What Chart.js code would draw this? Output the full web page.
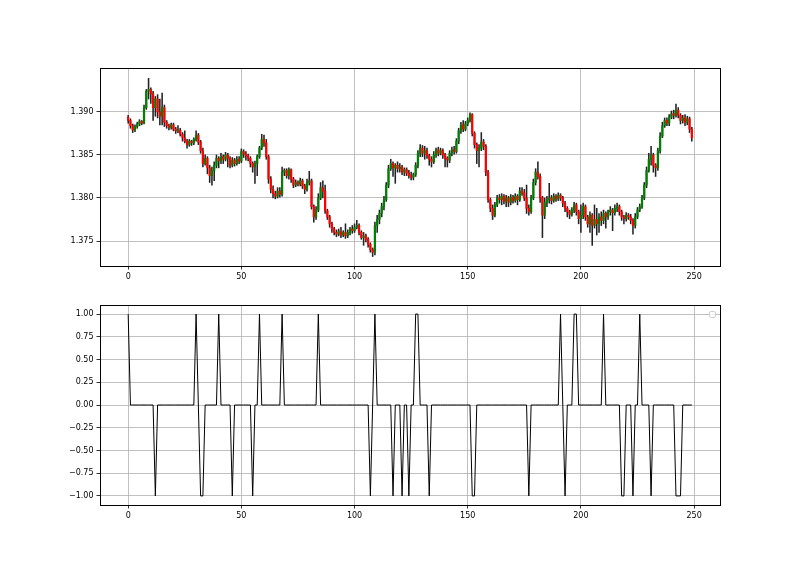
<!DOCTYPE html>
<html>
<head>
<meta charset="utf-8">
<script src="https://cdn.jsdelivr.net/npm/chart.js@4.4.1/dist/chart.umd.min.js"></script>
<style>
    html, body { margin: 0; padding: 0; background: #fff; }
    #wrap { position: relative; width: 800px; height: 566px; }
    canvas { position: absolute; left: 0; }
    #price-chart { top: 0; }
    #signal-chart { top: 290px; }
</style>
</head>
<body>
<div id="wrap">
    <canvas id="price-chart" width="800" height="290"></canvas>
    <canvas id="signal-chart" width="800" height="276"></canvas>
</div>
<script>
// OHLC values (index 0..249)
const opens = [
    1.3894,1.3890,1.3884,1.3879,1.3883,1.3886,1.3889,1.3887,1.3905,1.3924,
    1.3926,1.3921,1.3905,1.3915,1.3900,1.3895,1.3905,1.3888,1.3884,1.3882,
    1.3885,1.3880,1.3878,1.3879,1.3874,1.3870,1.3866,1.3862,1.3866,1.3864,
    1.3868,1.3873,1.3865,1.3855,1.3840,1.3846,1.3835,1.3826,1.3832,1.3838,
    1.3846,1.3843,1.3848,1.3845,1.3850,1.3846,1.3838,1.3844,1.3840,1.3845,
    1.3843,1.3854,1.3851,1.3849,1.3846,1.3840,1.3836,1.3840,1.3848,1.3858,
    1.3868,1.3864,1.3848,1.3822,1.3810,1.3805,1.3802,1.3808,1.3804,1.3830,
    1.3832,1.3826,1.3833,1.3822,1.3815,1.3818,1.3816,1.3820,1.3814,1.3810,
    1.3818,1.3820,1.3790,1.3778,1.3786,1.3800,1.3812,1.3808,1.3785,1.3778,
    1.3770,1.3764,1.3760,1.3758,1.3761,1.3757,1.3760,1.3756,1.3760,1.3764,
    1.3762,1.3766,1.3768,1.3760,1.3754,1.3756,1.3752,1.3746,1.3740,1.3737,
    1.3768,1.3775,1.3782,1.3790,1.3798,1.3815,1.3834,1.3840,1.3835,1.3838,
    1.3834,1.3836,1.3830,1.3833,1.3829,1.3826,1.3824,1.3827,1.3838,1.3852,
    1.3858,1.3852,1.3855,1.3849,1.3845,1.3842,1.3850,1.3856,1.3852,1.3855,
    1.3850,1.3846,1.3844,1.3852,1.3856,1.3854,1.3866,1.3878,1.3885,1.3880,
    1.3886,1.3890,1.3897,1.3875,1.3862,1.3855,1.3858,1.3865,1.3860,1.3830,
    1.3798,1.3788,1.3780,1.3792,1.3800,1.3798,1.3802,1.3796,1.3800,1.3795,
    1.3801,1.3797,1.3802,1.3798,1.3808,1.3806,1.3800,1.3788,1.3784,1.3800,
    1.3818,1.3830,1.3825,1.3800,1.3780,1.3795,1.3798,1.3800,1.3797,1.3802,
    1.3799,1.3803,1.3800,1.3794,1.3788,1.3784,1.3781,1.3786,1.3792,1.3784,
    1.3776,1.3780,1.3790,1.3778,1.3770,1.3780,1.3768,1.3775,1.3770,1.3778,
    1.3774,1.3782,1.3778,1.3784,1.3786,1.3783,1.3788,1.3790,1.3784,1.3778,
    1.3776,1.3780,1.3778,1.3774,1.3768,1.3778,1.3786,1.3790,1.3800,1.3815,
    1.3832,1.3845,1.3850,1.3838,1.3835,1.3855,1.3872,1.3884,1.3890,1.3887,
    1.3894,1.3898,1.3896,1.3902,1.3896,1.3890,1.3893,1.3888,1.3892,1.3880
];
const highs = [
    1.3896,1.3892,1.3886,1.3885,1.3888,1.3891,1.3890,1.3908,1.3926,1.3939,
    1.3928,1.3924,1.3918,1.3920,1.3915,1.3922,1.3908,1.3890,1.3886,1.3887,
    1.3887,1.3882,1.3884,1.3881,1.3876,1.3878,1.3868,1.3868,1.3867,1.3870,
    1.3878,1.3875,1.3867,1.3858,1.3850,1.3848,1.3838,1.3836,1.3842,1.3850,
    1.3848,1.3852,1.3850,1.3853,1.3852,1.3848,1.3847,1.3846,1.3848,1.3848,
    1.3857,1.3856,1.3854,1.3851,1.3848,1.3842,1.3843,1.3850,1.3860,1.3874,
    1.3873,1.3868,1.3850,1.3825,1.3814,1.3808,1.3812,1.3812,1.3836,1.3834,
    1.3834,1.3835,1.3834,1.3824,1.3821,1.3820,1.3823,1.3822,1.3816,1.3822,
    1.3831,1.3822,1.3792,1.3790,1.3805,1.3818,1.3820,1.3815,1.3787,1.3780,
    1.3772,1.3766,1.3763,1.3764,1.3766,1.3762,1.3770,1.3763,1.3766,1.3768,
    1.3770,1.3774,1.3770,1.3762,1.3760,1.3758,1.3754,1.3748,1.3742,1.3772,
    1.3780,1.3786,1.3794,1.3802,1.3818,1.3838,1.3845,1.3842,1.3840,1.3842,
    1.3840,1.3838,1.3835,1.3835,1.3832,1.3830,1.3829,1.3841,1.3855,1.3862,
    1.3861,1.3860,1.3858,1.3851,1.3848,1.3854,1.3858,1.3859,1.3858,1.3857,
    1.3852,1.3848,1.3855,1.3859,1.3860,1.3869,1.3881,1.3888,1.3890,1.3889,
    1.3893,1.3899,1.3898,1.3877,1.3864,1.3862,1.3876,1.3868,1.3862,1.3832,
    1.3800,1.3792,1.3795,1.3803,1.3804,1.3805,1.3804,1.3803,1.3802,1.3804,
    1.3803,1.3805,1.3804,1.3812,1.3812,1.3810,1.3815,1.3792,1.3803,1.3822,
    1.3834,1.3842,1.3828,1.3802,1.3800,1.3802,1.3817,1.3803,1.3805,1.3804,
    1.3806,1.3805,1.3802,1.3796,1.3790,1.3786,1.3789,1.3795,1.3794,1.3786,
    1.3792,1.3794,1.3792,1.3780,1.3784,1.3782,1.3792,1.3788,1.3782,1.3784,
    1.3786,1.3784,1.3786,1.3790,1.3788,1.3792,1.3794,1.3792,1.3786,1.3780,
    1.3783,1.3782,1.3781,1.3776,1.3782,1.3789,1.3793,1.3803,1.3818,1.3836,
    1.3852,1.3860,1.3852,1.3840,1.3858,1.3876,1.3888,1.3893,1.3893,1.3897,
    1.3901,1.3902,1.3909,1.3905,1.3898,1.3896,1.3897,1.3895,1.3894,1.3882
];
const lows = [
    1.3887,1.3881,1.3876,1.3877,1.3881,1.3884,1.3885,1.3886,1.3903,1.3915,
    1.3910,1.3890,1.3895,1.3893,1.3885,1.3885,1.3883,1.3881,1.3879,1.3880,
    1.3878,1.3875,1.3876,1.3872,1.3866,1.3864,1.3858,1.3860,1.3861,1.3862,
    1.3866,1.3862,1.3852,1.3836,1.3838,1.3828,1.3818,1.3815,1.3820,1.3835,
    1.3835,1.3840,1.3840,1.3843,1.3836,1.3835,1.3836,1.3837,1.3838,1.3840,
    1.3841,1.3847,1.3844,1.3843,1.3836,1.3830,1.3817,1.3826,1.3846,1.3856,
    1.3860,1.3845,1.3817,1.3806,1.3800,1.3799,1.3800,1.3801,1.3802,1.3826,
    1.3823,1.3822,1.3818,1.3812,1.3813,1.3814,1.3814,1.3811,1.3805,1.3808,
    1.3815,1.3787,1.3772,1.3775,1.3784,1.3798,1.3800,1.3782,1.3775,1.3766,
    1.3760,1.3757,1.3755,1.3756,1.3754,1.3755,1.3753,1.3754,1.3757,1.3759,
    1.3760,1.3764,1.3757,1.3752,1.3745,1.3749,1.3743,1.3737,1.3732,1.3734,
    1.3760,1.3770,1.3778,1.3786,1.3796,1.3812,1.3832,1.3825,1.3817,1.3830,
    1.3830,1.3827,1.3826,1.3826,1.3823,1.3821,1.3821,1.3825,1.3835,1.3848,
    1.3848,1.3845,1.3846,1.3838,1.3836,1.3840,1.3847,1.3849,1.3850,1.3846,
    1.3836,1.3836,1.3841,1.3849,1.3851,1.3852,1.3863,1.3875,1.3877,1.3878,
    1.3884,1.3888,1.3872,1.3858,1.3840,1.3836,1.3855,1.3856,1.3826,1.3795,
    1.3784,1.3775,1.3778,1.3790,1.3794,1.3792,1.3793,1.3790,1.3790,1.3792,
    1.3794,1.3795,1.3792,1.3796,1.3803,1.3797,1.3782,1.3780,1.3782,1.3798,
    1.3815,1.3822,1.3795,1.3754,1.3776,1.3790,1.3794,1.3793,1.3795,1.3796,
    1.3797,1.3797,1.3790,1.3784,1.3778,1.3776,1.3779,1.3783,1.3780,1.3770,
    1.3760,1.3776,1.3774,1.3766,1.3760,1.3745,1.3765,1.3757,1.3760,1.3768,
    1.3770,1.3765,1.3775,1.3780,1.3762,1.3780,1.3784,1.3780,1.3774,1.3770,
    1.3773,1.3775,1.3770,1.3758,1.3765,1.3776,1.3784,1.3788,1.3798,1.3812,
    1.3830,1.3838,1.3830,1.3825,1.3832,1.3852,1.3870,1.3882,1.3884,1.3884,
    1.3892,1.3892,1.3894,1.3893,1.3886,1.3887,1.3884,1.3885,1.3876,1.3866
];
const closes = [
    1.3890,1.3884,1.3879,1.3883,1.3886,1.3889,1.3887,1.3905,1.3924,1.3926,
    1.3921,1.3905,1.3915,1.3900,1.3895,1.3905,1.3888,1.3884,1.3882,1.3885,
    1.3880,1.3878,1.3879,1.3874,1.3870,1.3866,1.3862,1.3866,1.3864,1.3868,
    1.3873,1.3865,1.3855,1.3840,1.3846,1.3835,1.3826,1.3832,1.3838,1.3846,
    1.3843,1.3848,1.3845,1.3850,1.3846,1.3838,1.3844,1.3840,1.3845,1.3843,
    1.3854,1.3851,1.3849,1.3846,1.3840,1.3836,1.3840,1.3848,1.3858,1.3868,
    1.3864,1.3848,1.3822,1.3810,1.3805,1.3802,1.3808,1.3804,1.3830,1.3832,
    1.3826,1.3833,1.3822,1.3815,1.3818,1.3816,1.3820,1.3814,1.3810,1.3818,
    1.3820,1.3790,1.3778,1.3786,1.3800,1.3812,1.3808,1.3785,1.3778,1.3770,
    1.3764,1.3760,1.3758,1.3761,1.3757,1.3760,1.3756,1.3760,1.3764,1.3762,
    1.3766,1.3768,1.3760,1.3754,1.3756,1.3752,1.3746,1.3740,1.3737,1.3768,
    1.3775,1.3782,1.3790,1.3798,1.3815,1.3834,1.3840,1.3835,1.3838,1.3834,
    1.3836,1.3830,1.3833,1.3829,1.3826,1.3824,1.3827,1.3838,1.3852,1.3858,
    1.3852,1.3855,1.3849,1.3845,1.3842,1.3850,1.3856,1.3852,1.3855,1.3850,
    1.3846,1.3844,1.3852,1.3856,1.3854,1.3866,1.3878,1.3885,1.3880,1.3886,
    1.3890,1.3897,1.3875,1.3862,1.3855,1.3858,1.3865,1.3860,1.3830,1.3798,
    1.3788,1.3780,1.3792,1.3800,1.3798,1.3802,1.3796,1.3800,1.3795,1.3801,
    1.3797,1.3802,1.3798,1.3808,1.3806,1.3800,1.3788,1.3784,1.3800,1.3818,
    1.3830,1.3825,1.3800,1.3780,1.3795,1.3798,1.3800,1.3797,1.3802,1.3799,
    1.3803,1.3800,1.3794,1.3788,1.3784,1.3781,1.3786,1.3792,1.3784,1.3776,
    1.3780,1.3790,1.3778,1.3770,1.3780,1.3768,1.3775,1.3770,1.3778,1.3774,
    1.3782,1.3778,1.3784,1.3786,1.3783,1.3788,1.3790,1.3784,1.3778,1.3776,
    1.3780,1.3778,1.3774,1.3768,1.3778,1.3786,1.3790,1.3800,1.3815,1.3832,
    1.3845,1.3850,1.3838,1.3835,1.3855,1.3872,1.3884,1.3890,1.3887,1.3894,
    1.3898,1.3896,1.3902,1.3896,1.3890,1.3893,1.3888,1.3892,1.3880,1.3870
];

// signal line: 1 = buy, -1 = sell, 0 = nothing
const signal = [
    1,0,0,0,0,0,0,0,0,0,0,0,-1,0,0,0,0,0,0,0,0,0,0,0,0,
    0,0,0,0,0,1,0,-1,-1,0,0,0,0,0,0,1,0,0,0,0,0,-1,0,0,0,
    0,0,0,0,0,-1,0,0,1,0,0,0,0,0,0,0,0,0,1,0,0,0,0,0,0,
    0,0,0,0,0,0,0,0,0,1,0,0,0,0,0,0,0,0,0,0,0,0,0,0,0,
    0,0,0,0,0,0,0,-1,0,1,0,0,0,0,0,0,0,-1,0,0,0,-1,0,0,-1,
    0,0,1,1,0,0,0,0,-1,0,0,0,0,0,0,0,0,0,0,0,0,0,0,0,0,
    0,0,-1,-1,0,0,0,0,0,0,0,0,0,0,0,0,0,0,0,0,0,0,0,0,0,
    0,0,-1,0,0,0,0,0,0,0,0,0,0,0,0,0,1,0,-1,0,0,0,1,1,0,
    0,0,0,0,0,0,0,0,0,0,1,0,0,0,0,0,0,0,-1,-1,0,0,0,-1,0,
    0,1,0,0,0,0,-1,0,0,0,0,0,0,0,0,0,0,-1,-1,-1,0,0,0,0,0
];

const xTicks = [0, 50, 100, 150, 200, 250];
const priceTicks = [1.375, 1.380, 1.385, 1.390];
const signalTicks = [-1, -0.75, -0.5, -0.25, 0, 0.25, 0.5, 0.75, 1];

const FONT = { family: 'DejaVu Sans', size: 8 };
const GRID = '#b0b0b0';

// black frame round the plot area, like matplotlib spines
const framePlugin = {
    id: 'frame',
    afterDraw(chart) {
        const { ctx, chartArea: a } = chart;
        ctx.save();
        ctx.strokeStyle = '#000';
        ctx.lineWidth = 1;
        ctx.strokeRect(a.left + 0.5, a.top + 0.5, a.right - a.left, a.bottom - a.top);
        ctx.restore();
    }
};

// the empty legend box in the lower panel
const emptyLegendPlugin = {
    id: 'emptyLegend',
    afterDraw(chart) {
        const { ctx, chartArea: a } = chart;
        ctx.save();
        ctx.fillStyle = 'rgba(255,255,255,0.8)';
        ctx.strokeStyle = '#d0d0d0';
        ctx.lineWidth = 1;
        ctx.beginPath();
        ctx.roundRect(a.right - 10.5, a.top + 6.5, 6, 6, 1.5);
        ctx.fill();
        ctx.stroke();
        ctx.restore();
    }
};

function fixedTicks(values) {
    return scale => { scale.ticks = values.map(v => ({ value: v })); };
}

function xScale() {
    return {
        type: 'linear',
        min: -12.45,
        max: 261.45,
        offset: false,
        afterBuildTicks: fixedTicks(xTicks),
        afterFit: s => { s.height = 24; },
        ticks: {
            color: '#000', font: FONT, padding: 3, maxRotation: 0,
            callback: v => String(v)
        },
        grid: { color: GRID, lineWidth: 0.8, tickColor: '#000', tickLength: 3.5, offset: false },
        border: { display: false }
    };
}

const candleX = closes.map((c, i) => i);

new Chart(document.getElementById('price-chart'), {
    type: 'bar',
    data: {
        datasets: [
            {
                label: 'wick',
                data: candleX.map(i => ({ x: i, y: [lows[i], highs[i]] })),
                backgroundColor: '#222',
                barThickness: 0.9,
                grouped: false,
                order: 1
            },
            {
                label: 'body',
                data: candleX.map(i => ({ x: i, y: [opens[i], closes[i]] })),
                backgroundColor: candleX.map(i => closes[i] >= opens[i] ? 'green' : 'red'),
                barThickness: 1.6,
                minBarLength: 1,
                grouped: false,
                order: 0
            }
        ]
    },
    options: {
        responsive: false,
        animation: false,
        layout: { padding: { top: 68, right: 80, left: 0, bottom: 0 } },
        plugins: { legend: { display: false }, tooltip: { enabled: false } },
        scales: {
            x: xScale(),
            y: {
                type: 'linear',
                min: 1.3721,
                max: 1.3951,
                afterBuildTicks: fixedTicks(priceTicks),
                afterFit: s => { s.width = 100; },
                ticks: { color: '#000', font: FONT, padding: 3, callback: v => v.toFixed(3) },
                grid: { color: GRID, lineWidth: 0.8, tickColor: '#000', tickLength: 3.5 },
                border: { display: false }
            }
        }
    },
    plugins: [framePlugin]
});

new Chart(document.getElementById('signal-chart'), {
    type: 'line',
    data: {
        datasets: [{
            data: signal.map((v, i) => ({ x: i, y: v })),
            borderColor: '#000',
            borderWidth: 1,
            pointRadius: 0,
            tension: 0,
            fill: false
        }]
    },
    options: {
        responsive: false,
        animation: false,
        layout: { padding: { top: 15, right: 80, left: 0, bottom: 37 } },
        plugins: { legend: { display: false }, tooltip: { enabled: false } },
        scales: {
            x: xScale(),
            y: {
                type: 'linear',
                min: -1.1,
                max: 1.1,
                afterBuildTicks: fixedTicks(signalTicks),
                afterFit: s => { s.width = 100; },
                ticks: {
                    color: '#000', font: FONT, padding: 3,
                    callback: v => v.toFixed(2).replace('-', '\u2212')
                },
                grid: { color: GRID, lineWidth: 0.8, tickColor: '#000', tickLength: 3.5 },
                border: { display: false }
            }
        }
    },
    plugins: [framePlugin, emptyLegendPlugin]
});
</script>
</body>
</html>
